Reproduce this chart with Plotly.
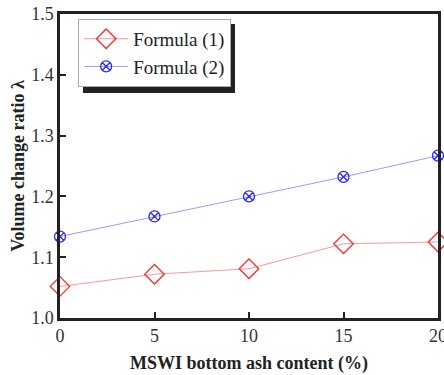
import plotly.graph_objects as go

x_vals = [0, 5, 10, 15, 20]
formula1 = [1.052, 1.072, 1.081, 1.122, 1.125]
formula2 = [1.134, 1.167, 1.200, 1.232, 1.267]
series_names = ["Formula (1)", "Formula (2)"]
y_ticks = [1.0, 1.1, 1.2, 1.3, 1.4, 1.5]
x_ticks = [0, 5, 10, 15, 20]

FF = "Times New Roman"
fig = go.Figure()
fig.add_trace(go.Scatter(
    x=x_vals, y=formula1, name=series_names[0], mode="lines+markers",
    line=dict(color="rgba(255,80,80,0.6)", width=1),
    marker=dict(symbol="diamond-open", size=15, color="#ff2a2a", line=dict(width=1.3)),
    cliponaxis=False))
fig.add_trace(go.Scatter(
    x=x_vals, y=formula2, name=series_names[1], mode="lines+markers",
    line=dict(color="rgba(90,90,255,0.6)", width=1),
    marker=dict(symbol="circle-x-open", size=11, color="#2a2aff", line=dict(width=1.3)),
    cliponaxis=False))

fig.update_layout(
    width=444, height=375,
    margin=dict(l=60, r=6, t=14, b=57),
    paper_bgcolor="white", plot_bgcolor="white",
    font=dict(family=FF, size=18, color="#222"),
    showlegend=True,
    legend=dict(x=0.048, y=0.984, xanchor="left", yanchor="top",
                bgcolor="white", bordercolor="#aaaaaa", borderwidth=1,
                font=dict(family=FF, size=19, color="#222"),
                tracegroupgap=0, itemsizing="trace", itemwidth=44),
    xaxis=dict(range=[0, 20], tickvals=x_ticks, ticks="inside", ticklen=6, tickwidth=2,
               tickcolor="#222", showline=True, linecolor="#222", linewidth=2.5,
               mirror=True, showgrid=False, zeroline=False, automargin=False,
               ticklabeloverflow="allow",
               tickfont=dict(family=FF, size=18, color="#333"),
               title=dict(text="<b>MSWI bottom ash content (%)</b>", standoff=12,
                          font=dict(family=FF, size=18, color="#222"))),
    yaxis=dict(range=[1.0, 1.5], tickvals=y_ticks, tickformat=".1f", ticks="inside",
               ticklen=6, tickwidth=2, tickcolor="#222", showline=True, linecolor="#222",
               linewidth=2.5, mirror=True, showgrid=False, zeroline=False, automargin=False,
               tickfont=dict(family=FF, size=18, color="#333"),
               title=dict(text="<b>Volume change ratio λ</b>", standoff=2,
                          font=dict(family=FF, size=18, color="#222"))),
)
# legend shadow
fig.add_shape(type="rect", xref="paper", yref="paper",
              x0=(83 - 60) / 378, x1=(235 - 60) / 378,
              y0=(318 - 93) / 304, y1=(318 - 24) / 304,
              fillcolor="#222", line=dict(width=0), layer="above")

fig.write_html("out.html", config={"displayModeBar": False},
               post_script="document.body.style.margin='0';")
